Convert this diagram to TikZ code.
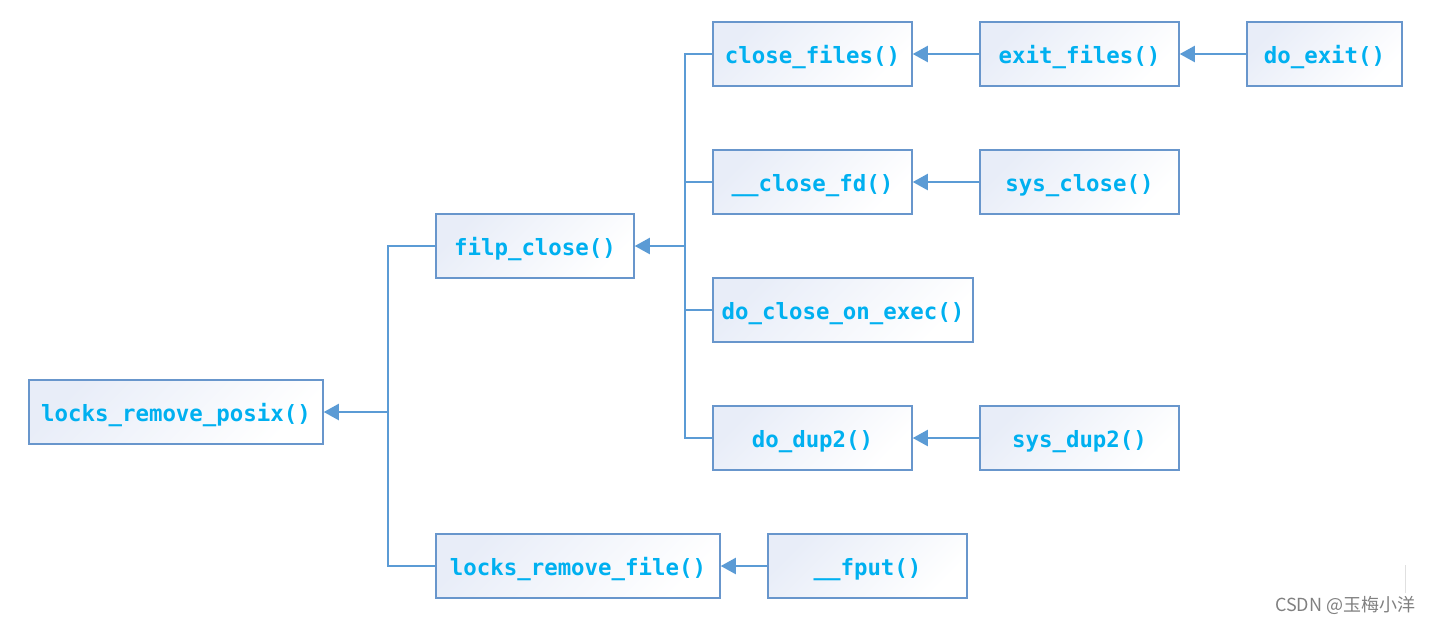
\documentclass[tikz,border=0pt]{standalone}
\usepackage{fontspec}
\setmonofont{DejaVu Sans Mono}
\newfontfamily\cjkfont{Noto Sans CJK SC}
\usetikzlibrary{arrows.meta}

\definecolor{fnline}{RGB}{91,155,213}
\definecolor{fnedge}{RGB}{104,150,204}
\definecolor{fntext}{RGB}{0,176,240}
\definecolor{fnshade}{RGB}{232,237,248}

\tikzset{
	fn/.style={draw=fnedge, line width=0.75pt, top color=fnshade, bottom color=white, shading angle=45,
		minimum height=32pt, inner sep=0pt, text height=9.5pt, text depth=0.5pt,
		text=fntext, font=\ttfamily\bfseries\fontsize{11.2}{13}\selectfont},
	link/.style={draw=fnline, line width=1pt},
	call/.style={link, -{Triangle[length=7.5pt,width=8pt]}}}
\tikzset{every picture/.style={line width=0.75pt}}

\begin{document}
\begin{tikzpicture}[x=0.5pt,y=0.5pt,yscale=-1,xscale=1]
	\useasboundingbox (0,0) rectangle (1431,623);

	%Shape: Rectangle [locks_remove_posix]
	\node[fn, minimum width=147pt] (posix) at (176,412) {locks\_remove\_posix()};
	%Shape: Rectangle [filp_close]
	\node[fn, minimum width=99pt] (filp) at (535,246) {filp\_close()};
	%Shape: Rectangle [locks_remove_file]
	\node[fn, minimum width=142pt] (lrfile) at (578,566) {locks\_remove\_file()};
	%Shape: Rectangle [__fput]
	\node[fn, minimum width=99.5pt] (fput) at (867.5,566) {\_\_fput()};
	%Shape: Rectangle [close_files]
	\node[fn, minimum width=99.5pt] (closefiles) at (812.5,54) {close\_files()};
	%Shape: Rectangle [exit_files]
	\node[fn, minimum width=99.5pt] (exitfiles) at (1079.5,54) {exit\_files()};
	%Shape: Rectangle [do_exit]
	\node[fn, minimum width=77.5pt] (doexit) at (1324.5,54) {do\_exit()};
	%Shape: Rectangle [__close_fd]
	\node[fn, minimum width=99.5pt] (closefd) at (812.5,182) {\_\_close\_fd()};
	%Shape: Rectangle [sys_close]
	\node[fn, minimum width=99.5pt] (sysclose) at (1079.5,182) {sys\_close()};
	%Shape: Rectangle [do_close_on_exec]
	\node[fn, minimum width=130pt] (onexec) at (843,310) {do\_close\_on\_exec()};
	%Shape: Rectangle [do_dup2]
	\node[fn, minimum width=99.5pt] (dodup) at (812.5,438) {do\_dup2()};
	%Shape: Rectangle [sys_dup2]
	\node[fn, minimum width=99.5pt] (sysdup) at (1079.5,438) {sys\_dup2()};

	%Junctions
	\coordinate (jposix) at (388,412);
	\coordinate (jfilp) at (685,246);

	%Straight Lines
	\draw[link] (filp.west) -| (jposix) |- (lrfile.west);
	\draw[call] (jposix) -- (posix.east);
	\draw[link] (closefiles.west) -| (jfilp) |- (dodup.west);
	\draw[link] (closefd.west) -| (jfilp);
	\draw[link] (onexec.west) -| (jfilp);
	\draw[call] (jfilp) -- (filp.east);
	\draw[call] (fput.west) -- (lrfile.east);
	\draw[call] (exitfiles.west) -- (closefiles.east);
	\draw[call] (doexit.west) -- (exitfiles.east);
	\draw[call] (sysclose.west) -- (closefd.east);
	\draw[call] (sysdup.west) -- (dodup.east);

	% Text Node
	\node[text=black!50, font=\cjkfont\fontsize{9}{11}\selectfont, anchor=east, inner sep=0pt] (mark) at (1416,605) {CSDN @玉梅小洋};
	\draw[black!12, line width=0.5pt] (1405,565) -- (1405,593);

\end{tikzpicture}
\end{document}
